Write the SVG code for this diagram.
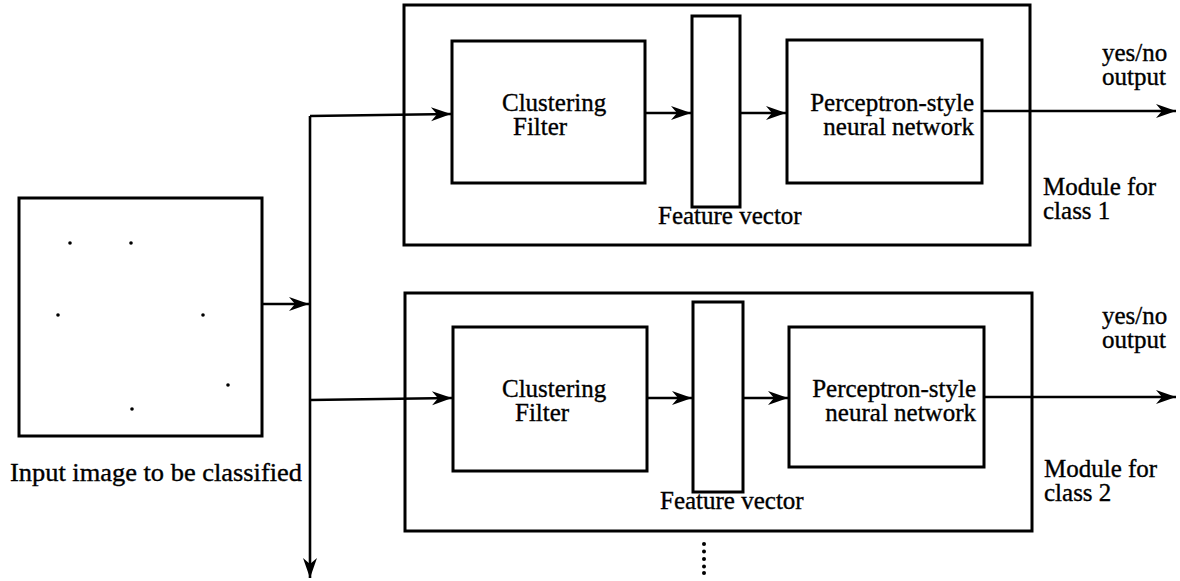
<svg xmlns="http://www.w3.org/2000/svg" width="1180" height="581" viewBox="0 0 1180 581">
<style>
.box{fill:none;stroke:#000;stroke-width:3}
.ln{fill:none;stroke:#000;stroke-width:2.6}
.t{font-family:"Liberation Serif","Times New Roman",serif;font-size:25px;fill:#000;stroke:#000;stroke-width:0.35}
.e{text-anchor:end}
</style>
<defs>
<marker id="ah" markerUnits="userSpaceOnUse" markerWidth="24" markerHeight="18" viewBox="-22 -9 24 18" refX="0" refY="0" orient="auto">
<path d="M0,0 L-20,-7 L-14,0 L-20,7 Z" fill="#000"/>
</marker>
</defs>
<rect width="1180" height="581" fill="#fff"/>

<g id="input-image">
<rect class="box" x="19" y="198" width="243" height="238"/>
<g fill="#000">
<circle cx="70" cy="243" r="1.8"/><circle cx="131" cy="243" r="1.8"/>
<circle cx="58" cy="315" r="1.8"/><circle cx="203" cy="315" r="1.8"/>
<circle cx="228" cy="385" r="1.8"/><circle cx="132" cy="409" r="1.8"/>
</g>
<text class="t" x="10" y="481" textLength="292" lengthAdjust="spacingAndGlyphs">Input image to be classified</text>
</g>

<g id="module1">
<rect class="box" x="404" y="5" width="626" height="240"/>
<text class="t" x="1043" y="195">Module for</text>
<text class="t" x="1043" y="219">class 1</text>
</g>
<g id="cluster1">
<rect class="box" x="452" y="41" width="193" height="142"/>
<text class="t" x="502" y="111">Clustering</text>
<text class="t" x="513" y="135">Filter</text>
</g>
<g id="feature1">
<rect class="box" x="692" y="16" width="48" height="191"/>
<text class="t" x="658" y="224">Feature vector</text>
</g>
<g id="perceptron1">
<rect class="box" x="787" y="40" width="195" height="143"/>
<text class="t e" x="974" y="111">Perceptron-style</text>
<text class="t e" x="974" y="135">neural network</text>
</g>
<g id="output1">
<text class="t" x="1102" y="61">yes/no</text>
<text class="t" x="1102" y="85">output</text>
</g>

<g id="module2">
<rect class="box" x="405" y="293" width="627" height="238"/>
<text class="t" x="1044" y="477">Module for</text>
<text class="t" x="1044" y="501">class 2</text>
</g>
<g id="cluster2">
<rect class="box" x="453" y="327" width="194" height="144"/>
<text class="t" x="502" y="397">Clustering</text>
<text class="t" x="515" y="421">Filter</text>
</g>
<g id="feature2">
<rect class="box" x="693" y="302" width="50" height="190"/>
<text class="t" x="660" y="509">Feature vector</text>
</g>
<g id="perceptron2">
<rect class="box" x="789" y="327" width="195" height="140"/>
<text class="t e" x="976" y="397">Perceptron-style</text>
<text class="t e" x="976" y="421">neural network</text>
</g>
<g id="output2">
<text class="t" x="1102" y="324">yes/no</text>
<text class="t" x="1102" y="348">output</text>
</g>

<g id="connectors">
<path class="ln" d="M262,304 L309,304" marker-end="url(#ah)"/>
<path class="ln" d="M310,116 L310,578" marker-end="url(#ah)"/>
<path class="ln" d="M310,116 L451,114" marker-end="url(#ah)"/>
<path class="ln" d="M645,113 L691,113" marker-end="url(#ah)"/>
<path class="ln" d="M740,113 L786,113" marker-end="url(#ah)"/>
<path class="ln" d="M982,111 L1176,111" marker-end="url(#ah)"/>
<path class="ln" d="M310,400 L452,398" marker-end="url(#ah)"/>
<path class="ln" d="M647,398 L692,398" marker-end="url(#ah)"/>
<path class="ln" d="M743,398 L788,398" marker-end="url(#ah)"/>
<path class="ln" d="M984,397 L1176,397" marker-end="url(#ah)"/>
<g fill="#000">
<circle cx="704" cy="544" r="2"/><circle cx="704" cy="551.5" r="2"/>
<circle cx="704" cy="559" r="2"/><circle cx="704" cy="566.5" r="2"/>
<circle cx="704" cy="573" r="2"/>
</g>
</g>
</svg>
